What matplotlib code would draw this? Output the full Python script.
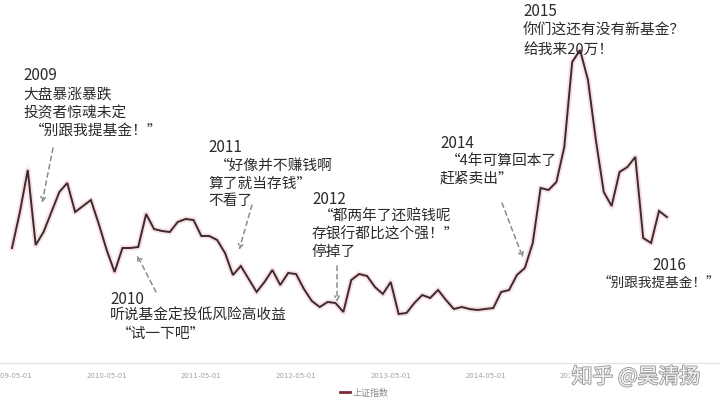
import numpy as np
import matplotlib
matplotlib.use("Agg")
import matplotlib.pyplot as plt
import matplotlib.patheffects as pe
from matplotlib.lines import Line2D

plt.rcParams['font.family'] = ['Noto Sans CJK SC', 'DejaVu Sans']

# ---- data (monthly, starting 2009-05) ----
series_name = "上证指数"
values = [2640, 3000, 3420, 2670, 2800, 3000, 3200, 3290, 3000, 3060,
          3120, 2880, 2620, 2400, 2640, 2640, 2650, 2980, 2830, 2810,
          2800, 2900, 2930, 2920, 2760, 2760, 2720, 2590, 2370, 2460,
          2330, 2200, 2300, 2420, 2270, 2390, 2380, 2230, 2110, 2050,
          2100, 2090, 2000, 2320, 2380, 2360, 2250, 2180, 2300, 1980,
          1990, 2090, 2170, 2140, 2220, 2120, 2030, 2050, 2030, 2020,
          2030, 2040, 2200, 2220, 2370, 2440, 2690, 3240, 3220, 3300,
          3650, 4500, 4620, 4320, 3720, 3200, 3060, 3400, 3450, 3550,
          2740, 2690, 3010, 2950]
tick_labels = ["2009-05-01", "2010-05-01", "2011-05-01", "2012-05-01",
               "2013-05-01", "2014-05-01", "2015-05-01"]
tick_index = [0, 12, 24, 36, 48, 60, 72]

annotations = [
    # (lines, arrow)
    ([(23, 76, "2009"), (23, 95, "大盘暴涨暴跌"), (23, 113, "投资者惊魂未定"),
      (30, 131, "“别跟我提基金！”")], ((53, 148), (42, 203))),
    ([(110, 299, "2010"), (110, 316, "听说基金定投低风险高收益"),
      (117, 334, "“试一下吧”")], ((156, 292), (137, 255))),
    ([(208, 148, "2011"), (215, 166, "“好像并不赚钱啊"),
      (208, 184, "算了就当存钱”"), (208, 201, "不看了")], ((252, 205), (239, 250))),
    ([(312, 199, "2012"), (319, 217, "“都两年了还赔钱呢"),
      (312, 235, "存银行都比这个强！”"), (312, 252, "停掉了")], ((337, 266), (337, 302))),
    ([(440, 144, "2014"), (446, 161, "“4年可算回本了"),
      (440, 179, "赶紧卖出”")], ((502, 203), (523, 258))),
    ([(523, 12, "2015"), (523, 31, "你们这还有没有新基金？"),
      (523, 50, "给我来20万！")], None),
    ([(652, 265, "2016"), (598, 283, "“别跟我提基金！”")], None),
]

W, H = 720, 405
fig = plt.figure(figsize=(7.2, 4.05), dpi=100)
fig.patch.set_facecolor("white")

ax = fig.add_axes([0, (H - 363) / H, 1, 363 / H])
x = np.arange(len(values))
ax.plot(x, values, color="#f2b8c0", lw=4.0, alpha=0.45, solid_joinstyle="round", zorder=2)
ax.plot(x, values, color="#3a2b30", lw=1.4, solid_joinstyle="miter", zorder=3)

ppm = 7.89
ax.set_xlim(-12 / ppm, (W - 12) / ppm)
ax.set_ylim(1490, 5120)
ax.set_xticks(tick_index)
ax.set_xticklabels(tick_labels, fontsize=5, color="#a0a0a0", family="DejaVu Sans")
ax.tick_params(axis="x", length=0, pad=7)
ax.set_yticks([])
for s in ["top", "right", "left"]:
    ax.spines[s].set_visible(False)
ax.spines["bottom"].set_color("#e2e2e2")
ax.spines["bottom"].set_linewidth(0.8)
ax.set_facecolor("none")

# legend
h = Line2D([0], [0], color="#7a2a38", lw=2)
fig.legend([h], [series_name], loc="center", bbox_to_anchor=(364 / W, 1 - 393 / H),
           frameon=False, fontsize=6.5, handlelength=1.1, handletextpad=0.3,
           labelcolor="#888888")

# annotations
for lines, arrow in annotations:
    for (px, py, t) in lines:
        if t.isdigit():
            fs = 11
        elif px > 580 and py > 250:
            fs = 9.8
        else:
            fs = 10.6
        fig.text(px / W, 1 - py / H, t, fontsize=fs, color="#2b2b2b",
                 ha="left", va="center", zorder=5)
    if arrow is not None:
        (x0, y0), (x1, y1) = arrow
        ax.annotate("", xy=(x1, H - y1), xycoords="figure pixels",
                    xytext=(x0, H - y0), textcoords="figure pixels",
                    arrowprops=dict(arrowstyle="->", color="#8c8c8c", lw=1.1,
                                    linestyle=(0, (3, 2.5)), shrinkA=0, shrinkB=0,
                                    mutation_scale=8))

# watermark
fig.text(636 / W, 1 - 377 / H, "知乎 @吴清扬", fontsize=15, color="#f4f4f4",
         ha="center", va="center", zorder=10,
         path_effects=[pe.withStroke(linewidth=1.3, foreground="#9a9a9a")],
         bbox=dict(facecolor="white", edgecolor="none", alpha=0.9, pad=1))

fig.savefig("out.png", dpi=100)
